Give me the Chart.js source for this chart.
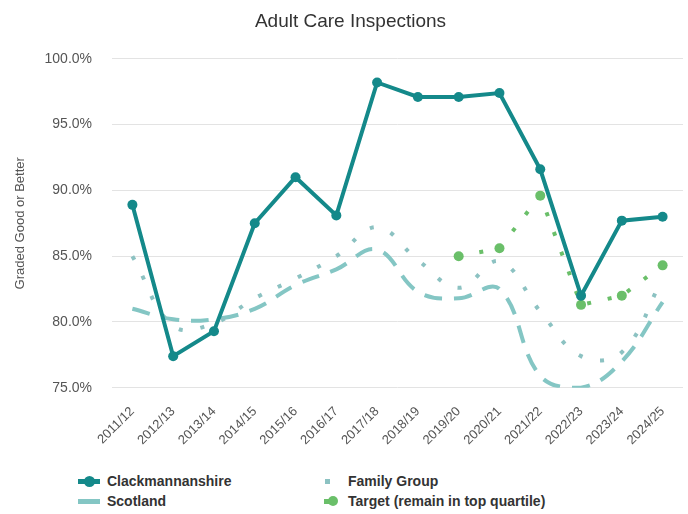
<!DOCTYPE html>
<html>
<head>
<meta charset="utf-8">
<script src="https://cdn.jsdelivr.net/npm/chart.js@4"></script>
<style>
  html, body { margin: 0; padding: 0; background: #fff; }
  #wrap { position: relative; width: 688px; height: 514px; }
  #chartBox { position: absolute; left: 0; top: 0; width: 688px; height: 456px; }
  #legend { position: absolute; left: 0; top: 471px; width: 688px; font: bold 14px "Liberation Sans", Arial, sans-serif; color: #333; }
  .item { position: absolute; height: 20px; line-height: 20px; white-space: nowrap; }
  .mark { position: absolute; top: 0; width: 24px; height: 20px; }
  .txt { position: absolute; top: 0; }
</style>
</head>
<body>
<div id="wrap">
  <div id="chartBox"><canvas id="chart"></canvas></div>
  <div id="legend"></div>
</div>
<script>
const years = ['2011/12', '2012/13', '2013/14', '2014/15', '2015/16', '2016/17', '2017/18',
    '2018/19', '2019/20', '2020/21', '2021/22', '2022/23', '2023/24', '2024/25'];
const clackmannanshire = [88.9, 77.4, 79.3, 87.5, 91.0, 88.1, 98.2, 97.1, 97.1, 97.4, 91.6, 82.0, 87.7, 88.0];
const familyGroup = [85.0, 79.7, 79.9, 81.8, 83.3, 85.0, 87.2, 84.7, 82.6, 84.6, 80.8, 77.4, 77.7, 83.3];
const scotland = [81.0, 80.2, 80.2, 81.0, 82.8, 84.0, 85.5, 82.3, 81.8, 82.5, 75.9, 75.0, 77.0, 81.5];
const target = [null, null, null, null, null, null, null, null, 85.0, 85.6, 89.6, 81.3, 82.0, 84.3];
const yTicks = [75, 80, 85, 90, 95, 100];

const FONT = '"Liberation Sans", Arial, sans-serif';
const C_CLACK = '#14898a';
const C_SCOT = '#84c6c4';
const C_FG = '#8cc2c2';
const C_TARGET = '#6abf69';

const datasets = [
    { label: 'Clackmannanshire', data: clackmannanshire, borderColor: C_CLACK, backgroundColor: C_CLACK,
      borderWidth: 4, pointRadius: 5, pointBorderWidth: 0, tension: 0, order: 0 },
    { label: 'Family Group', data: familyGroup, borderColor: C_FG, backgroundColor: C_FG,
      borderWidth: 4, borderDash: [4, 18], pointRadius: 0, tension: 0.4, order: 2 },
    { label: 'Scotland', data: scotland, borderColor: C_SCOT, backgroundColor: C_SCOT,
      borderWidth: 4, borderDash: [18, 12], pointRadius: 0, tension: 0.4, order: 3 },
    { label: 'Target (remain in top quartile)', data: target, borderColor: C_TARGET, backgroundColor: C_TARGET,
      borderWidth: 4, borderDash: [4, 17], pointRadius: 5, pointBorderWidth: 0, tension: 0, order: 1 }
];

new Chart(document.getElementById('chart'), {
    type: 'line',
    data: { labels: years, datasets: datasets },
    options: {
        responsive: true,
        maintainAspectRatio: false,
        animation: false,
        layout: { padding: { left: 13, right: 0, top: 0, bottom: 0 } },
        plugins: {
            legend: { display: false },
            tooltip: { enabled: false },
            title: {
                display: true,
                text: 'Adult Care Inspections',
                color: '#333',
                font: { family: FONT, size: 19, weight: 'normal' },
                padding: { top: 10, bottom: 26 }
            }
        },
        scales: {
            x: {
                offset: true,
                grid: { display: false },
                border: { display: false },
                ticks: { color: '#555', font: { family: FONT, size: 13 }, minRotation: 45, maxRotation: 45, padding: 8 }
            },
            y: {
                min: 75, max: 100,
                afterBuildTicks: s => { s.ticks = yTicks.map(v => ({ value: v })); },
                afterFit: s => { s.width = 99; },
                grid: { color: '#e3e3e3', drawTicks: false },
                border: { display: false },
                title: { display: true, text: 'Graded Good or Better', color: '#555', font: { family: FONT, size: 13 }, padding: { top: 0, bottom: 8 } },
                ticks: { color: '#555', font: { family: FONT, size: 14 }, padding: 20,
                         callback: v => v.toFixed(1) + '%' }
            }
        }
    }
});

// legend, 2 columns like the original
const legendItems = [
    { text: 'Clackmannanshire', x: 78, y: 0, kind: 'clack' },
    { text: 'Scotland', x: 78, y: 20, kind: 'scot' },
    { text: 'Family Group', x: 322, y: 0, kind: 'fg' },
    { text: 'Target (remain in top quartile)', x: 322, y: 20, kind: 'target' }
];
const lg = document.getElementById('legend');
legendItems.forEach(it => {
    let mark = '';
    if (it.kind === 'clack') {
        mark = `<div style="position:absolute;left:0;top:8px;width:22px;height:5px;background:${C_CLACK}"></div>
                <div style="position:absolute;left:6px;top:5px;width:11px;height:11px;border-radius:50%;background:${C_CLACK}"></div>`;
    } else if (it.kind === 'scot') {
        mark = `<div style="position:absolute;left:0;top:8px;width:22px;height:5px;background:${C_SCOT}"></div>`;
    } else if (it.kind === 'fg') {
        mark = `<div style="position:absolute;left:3px;top:8px;width:5px;height:5px;background:${C_FG}"></div>`;
    } else {
        mark = `<div style="position:absolute;left:2px;top:8px;width:6px;height:5px;background:${C_TARGET}"></div>
                <div style="position:absolute;left:6px;top:5px;width:10px;height:10px;border-radius:50%;background:${C_TARGET}"></div>`;
    }
    const offs = it.kind === 'fg' || it.kind === 'target' ? 26 : 29;
    lg.innerHTML += `<div class="item" style="left:${it.x}px;top:${it.y}px">
        <div class="mark">${mark}</div><div class="txt" style="left:${offs}px">${it.text}</div></div>`;
});
</script>
</body>
</html>
